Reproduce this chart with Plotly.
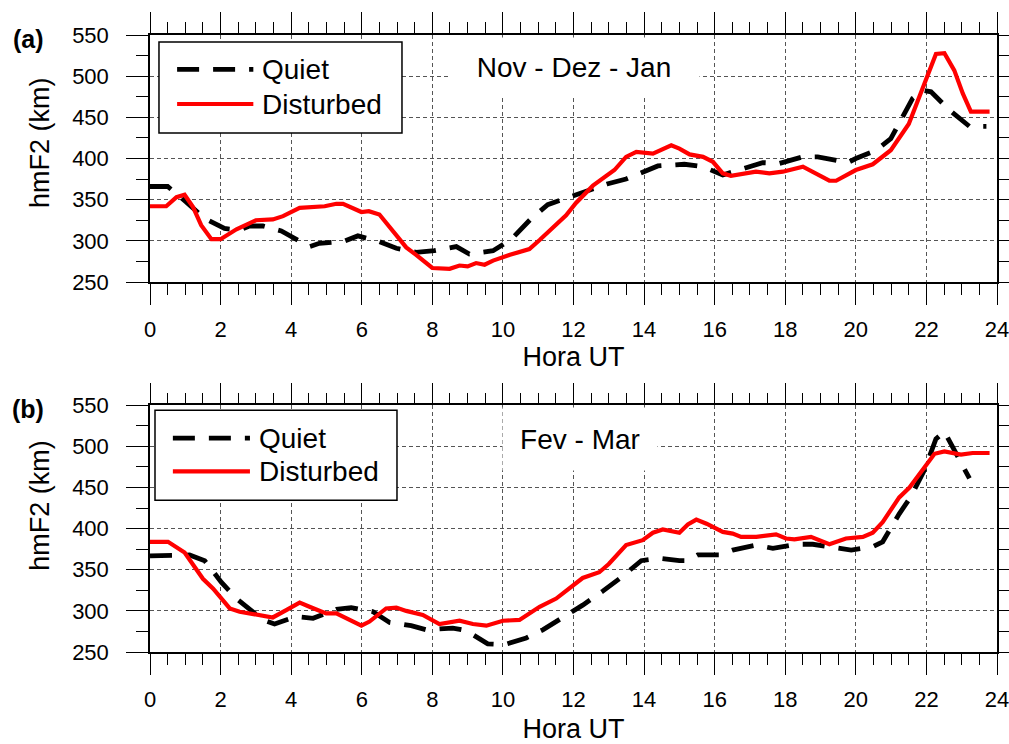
import plotly.graph_objects as go

# ---------------- data ----------------
hours_a_quiet = [0, 0.5, 1.03, 1.55, 2.11, 2.54, 2.82, 3.2, 3.72, 4.29, 4.52, 4.8, 5.47, 5.89,
                 6.5, 6.98, 7.54, 8.06, 8.68, 9.05, 9.72, 10.24, 10.8, 11.27, 11.89, 12.27,
                 12.95, 13.49, 14.06, 14.39, 15.14, 15.67, 16.23, 16.7, 17.36, 17.83, 18.5,
                 18.92, 19.44, 19.77, 20.0, 20.57, 20.99, 21.32, 21.61, 21.9, 22.13, 22.65,
                 23.22, 23.7]
hmf2_a_quiet = [366, 366, 347, 327, 315, 313, 318, 318, 312, 299, 293, 297, 299, 306,
                299, 291, 286, 288, 293, 284, 288, 302, 327, 344, 353, 359,
                369, 375, 386, 391, 393, 390, 380, 386, 395, 394, 402,
                402, 398, 395, 400, 410, 424, 451, 473, 483, 481, 459,
                439, 439]

hours_a_dist = [0, 0.46, 0.75, 0.98, 1.22, 1.45, 1.74, 2.0, 2.45, 3.0, 3.48, 3.77, 4.24, 4.95,
                5.28, 5.47, 5.99, 6.2, 6.5, 6.79, 7.26, 7.54, 8.0, 8.49, 8.77, 9.0, 9.24,
                9.48, 9.72, 10.2, 10.47, 10.75, 11.04, 11.41, 11.79, 12.07, 12.55, 13.16,
                13.49, 13.78, 14.25, 14.77, 15.0, 15.29, 15.67, 15.95, 16.23, 16.46, 17.17,
                17.55, 17.93, 18.5, 18.87, 19.25, 19.44, 19.72, 20.0, 20.48, 20.71, 20.99,
                21.5, 21.8, 22.08, 22.27, 22.51, 22.79, 23.03, 23.26, 23.79]
hmf2_a_dist = [342, 342, 353, 356, 341, 319, 302, 302, 314, 325, 326, 330, 340, 342,
               345, 345, 335, 336, 332, 316, 292, 283, 267, 266, 270, 269, 273,
               271, 276, 283, 286, 290, 301, 315, 331, 346, 367, 386,
               402, 408, 406, 416, 412, 405, 402, 396, 382, 379, 384,
               382, 384, 390, 382, 373, 373, 380, 386, 393, 400, 410,
               442, 475, 507, 527, 528, 507, 479, 457, 457]

hours_b_quiet = [0, 0.51, 1.12, 1.55, 2.02, 2.45, 3.2, 3.53, 4.14, 4.62, 5.28, 5.7, 6.32, 6.79,
                 7.4, 7.83, 8.58, 8.96, 9.57, 10.05, 10.66, 11.13, 11.74, 12.26, 12.83, 13.3,
                 13.92, 14.44, 15.0, 15.24, 15.52, 16.13, 16.51, 17.18, 17.65, 18.31, 18.78,
                 19.35, 19.87, 20.48, 20.76, 21.23, 21.56, 21.94, 22.08, 22.27, 22.51, 22.65,
                 22.93, 23.22]
hmf2_b_quiet = [367, 367, 368, 361, 335, 315, 289, 284, 293, 291, 302, 304, 299, 286,
                282, 277, 279, 276, 260, 259, 267, 277, 293, 307, 324, 339,
                361, 364, 361, 361, 368, 368, 374, 380, 376, 381, 381,
                377, 374, 378, 384, 418, 439, 471, 487, 509, 518, 507,
                483, 461]

hours_b_dist = [0, 0.51, 0.98, 1.5, 1.79, 2.26, 2.54, 3.01, 3.48, 3.86, 4.24, 4.52, 4.99, 5.28,
                5.66, 5.99, 6.22, 6.69, 6.98, 7.26, 7.73, 8.2, 8.77, 9.15, 9.53, 10.0, 10.47,
                11.04, 11.51, 11.89, 12.26, 12.73, 13.0, 13.49, 13.96, 14.25, 14.53, 15.0,
                15.24, 15.48, 15.77, 16.23, 16.51, 16.75, 17.18, 17.74, 18.02, 18.26, 18.73,
                19.25, 19.72, 20.2, 20.48, 20.76, 21.23, 21.52, 21.9, 22.23, 22.51, 22.98,
                23.31, 23.79]
hmf2_b_dist = [384, 384, 371, 339, 327, 303, 299, 295, 292, 301, 310, 305, 297, 297,
               289, 282, 287, 303, 304, 300, 295, 284, 288, 284, 282, 288, 289,
               305, 315, 327, 340, 347, 357, 380, 386, 395, 399, 395,
               405, 411, 406, 396, 394, 390, 390, 393, 388, 387, 390,
               381, 388, 390, 395, 408, 438, 450, 473, 491, 494, 490,
               492, 492]

series_names = ["Quiet", "Disturbed"]
panel_labels = ["(a)", "(b)"]
panel_titles = ["Nov - Dez - Jan", "Fev - Mar"]
x_title = "Hora UT"
y_title = "hmF2 (km)"

# ---------------- styling ----------------
FONT = "Liberation Sans, Arial, Helvetica, sans-serif"
QUIET_LINE = dict(color="black", width=4.8, dash="22px,14px")
DIST_LINE = dict(color="#ff0000", width=4.2)

fig = go.Figure()

panels = [
    (hours_a_quiet, hmf2_a_quiet, hours_a_dist, hmf2_a_dist, "x", "y"),
    (hours_b_quiet, hmf2_b_quiet, hours_b_dist, hmf2_b_dist, "x2", "y2"),
]
for hq, vq, hd, vd, xa, ya in panels:
    fig.add_trace(go.Scatter(x=hq, y=vq, mode="lines", name=series_names[0],
                             line=QUIET_LINE, xaxis=xa, yaxis=ya, showlegend=False))
    fig.add_trace(go.Scatter(x=hd, y=vd, mode="lines", name=series_names[1],
                             line=DIST_LINE, xaxis=xa, yaxis=ya, showlegend=False))

W, H = 1009, 744
L, R, TOP, BOT = 150, 12, 35, 92
plot_h = H - TOP - BOT
plot_w = W - L - R
top_dom = [1 - 247 / plot_h, 1]
bot_dom = [0, 246.7 / plot_h]

def xaxis_cfg(anchor, title_standoff):
    return dict(
        range=[0, 24], tick0=0, dtick=2, anchor=anchor, automargin=False,
        showline=True, linecolor="black", linewidth=1.5, mirror="ticks",
        ticks="outside", ticklen=21, tickwidth=1.2, tickcolor="black",
        minor=dict(ticks="outside", ticklen=11, dtick=0.5, tickwidth=1.2,
                   tickcolor="black", showgrid=False),
        showgrid=True, gridcolor="#555555", gridwidth=1, griddash="4px,3px",
        zeroline=False,
        tickfont=dict(family=FONT, size=22, color="black"),
        ticklabelstandoff=6, ticklabeloverflow="allow",
        title=dict(text=x_title, font=dict(family=FONT, size=27, color="black"),
                   standoff=title_standoff),
    )

def yaxis_cfg(anchor, dom):
    return dict(
        range=[250, 550], tick0=250, dtick=50, anchor=anchor, domain=dom, automargin=False,
        showline=True, linecolor="black", linewidth=1.5, mirror="ticks",
        ticks="outside", ticklen=22, tickwidth=1.2, tickcolor="black",
        minor=dict(ticks="outside", ticklen=12, dtick=25, tickwidth=1.2,
                   tickcolor="black", showgrid=False),
        showgrid=True, gridcolor="#555555", gridwidth=1, griddash="4px,3px",
        zeroline=False,
        tickfont=dict(family=FONT, size=22, color="black"),
        ticklabelstandoff=13,
    )

fig.update_layout(
    width=W, height=H,
    margin=dict(l=L, r=R, t=TOP, b=BOT, autoexpand=False),
    paper_bgcolor="white", plot_bgcolor="white",
    showlegend=False,
    xaxis=xaxis_cfg("y", 1), yaxis=yaxis_cfg("x", top_dom),
    xaxis2=xaxis_cfg("y2", 13), yaxis2=yaxis_cfg("x2", bot_dom),
)

# ---------- per-panel decorations: legend box, labels, period text ----------
legend_geo = [
    dict(box=(0.0106, 0.2975, 0.603, 0.972), yq=0.861, yd=0.7206, lx0=0.032, lx1=0.122, tx=0.130,
         lab_y=0.985, ytitle_y=0.563, title_x=12.0, title_w=250, title_h=58),
    dict(box=(0.0059, 0.2916, 0.615, 0.980), yq=0.867, yd=0.7325, lx0=0.027, lx1=0.118, tx=0.126,
         lab_y=0.985, ytitle_y=0.593, title_x=12.17, title_w=154, title_h=62),
]
for i, g in enumerate(legend_geo):
    sfx = "" if i == 0 else "2"
    xr, yr = f"x{sfx} domain", f"y{sfx} domain"
    x0, x1, y0, y1 = g["box"]
    fig.add_shape(type="rect", xref=xr, yref=yr, x0=x0, x1=x1, y0=y0, y1=y1,
                  fillcolor="white", line=dict(color="black", width=1.5), layer="above")
    fig.add_shape(type="line", xref=xr, yref=yr, x0=g["lx0"], x1=g["lx1"], y0=g["yq"], y1=g["yq"],
                  line=QUIET_LINE, layer="above")
    fig.add_shape(type="line", xref=xr, yref=yr, x0=g["lx0"], x1=g["lx1"], y0=g["yd"], y1=g["yd"],
                  line=DIST_LINE, layer="above")
    for name, yy in zip(series_names, [g["yq"], g["yd"]]):
        fig.add_annotation(xref=xr, yref=yr, x=g["tx"], y=yy, text=name, showarrow=False,
                           xanchor="left", yanchor="middle",
                           font=dict(family=FONT, size=28, color="black"))
    fig.add_annotation(xref="paper", yref=yr, x=(28 - L) / plot_w, y=g["lab_y"],
                       text=f"<b>{panel_labels[i]}</b>",
                       showarrow=False, xanchor="center", yanchor="middle",
                       font=dict(family=FONT, size=25, color="black"))
    fig.add_annotation(xref="paper", yref=yr, x=(40 - L) / plot_w, y=g["ytitle_y"],
                       text=y_title, textangle=-90, showarrow=False,
                       xanchor="center", yanchor="middle",
                       font=dict(family=FONT, size=27, color="black"))
    fig.add_annotation(xref=f"x{sfx}", yref=yr, x=g["title_x"], y=1, yshift=-1.5,
                       text=panel_titles[i], showarrow=False, xanchor="center", yanchor="top",
                       width=g["title_w"], height=g["title_h"], bgcolor="white", borderpad=0,
                       font=dict(family=FONT, size=28, color="black"))

# remove the default 8px body margin so the 1009x744 figure fills the window exactly
fig.write_html("out.html", config={"displayModeBar": False},
               post_script="document.body.style.margin='0px';")
